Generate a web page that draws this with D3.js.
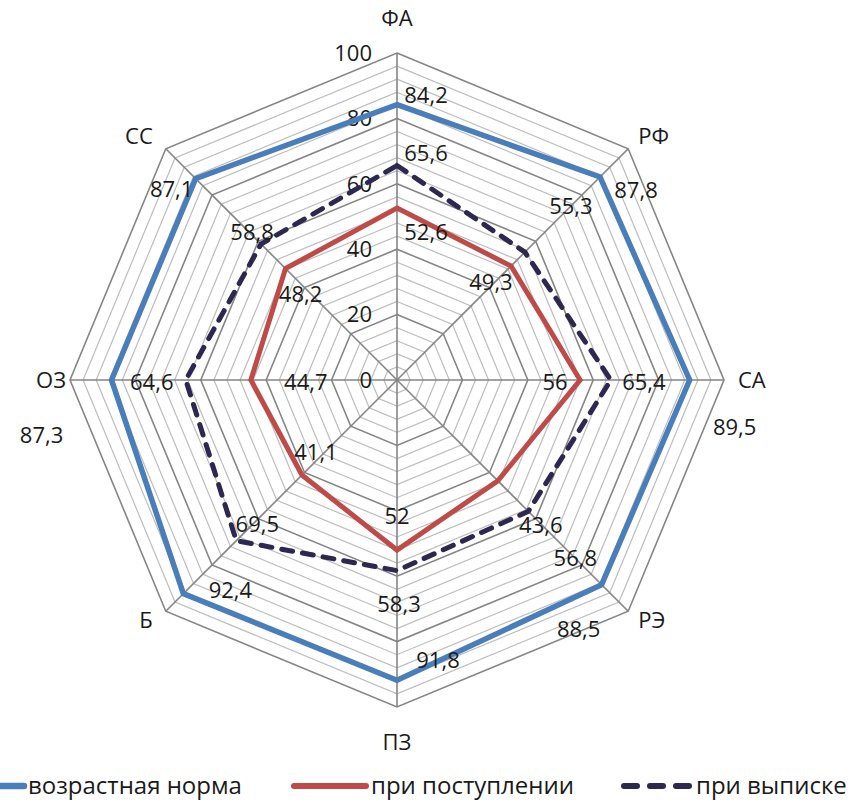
<!DOCTYPE html>
<html>
<head>
<meta charset="utf-8">
<script src="https://cdn.jsdelivr.net/npm/d3@7"></script>
<style>
  html, body { margin: 0; padding: 0; background: #fff; }
  svg { display: block; }
  text { font-family: "Open Sans", "Noto Sans", sans-serif; fill: #1a1a1a; }
</style>
</head>
<body>
<svg id="chart" width="857" height="805"></svg>
<script>
// Axes of the radar, clockwise from the top
const categories = ["ФА", "РФ", "СА", "РЭ", "ПЗ", "Б", "ОЗ", "СС"];

// Series values per axis
const normValues      = [84.2, 87.8, 89.5, 88.5, 91.8, 92.4, 87.3, 87.1];
const admissionValues = [52.6, 49.3, 56, 43.6, 52, 41.1, 44.7, 48.2];
const dischargeValues = [65.6, 55.3, 65.4, 56.8, 58.3, 69.5, 64.6, 58.8];

const seriesNames = ["возрастная норма", "при поступлении", "при выписке"];
const tickValues = [0, 20, 40, 60, 80, 100];

// Value-label nudges (px) relative to each point, per series
const normLabelShift      = [[29,-9],[36,13],[45,47],[-23,45],[41,-20],[47,-3],[-70,55],[-24,11]];
const admissionLabelShift = [[29,24],[-20,16],[-25,2],[43,44],[0,-34],[14,-23],[55,2],[15,26]];
const dischargeLabelShift = [[29,-12],[46,-46],[33,2],[47,47],[2,34],[21,-16],[-34,2],[-9,-12]];

const svg = d3.select("#chart");
const cx = 397, cy = 380, R = 327;
const n = categories.length;
const fontSize = 22;
const r = d3.scaleLinear().domain([0, 100]).range([0, R]);
const ang = i => i * 2 * Math.PI / n;
const px = (i, v) => cx + r(v) * Math.sin(ang(i));
const py = (i, v) => cy - r(v) * Math.cos(ang(i));

const g = svg.append("g");

// Ring gridlines: minor every 4, major every 20
const rings = d3.range(4, 101, 4);
const ringLine = d3.lineRadial()
  .angle((d, i) => ang(i))
  .radius(d => r(d))
  .curve(d3.curveLinearClosed);

g.append("g").attr("transform", `translate(${cx},${cy})`)
  .selectAll("path")
  .data(rings.filter(v => v % 20 !== 0))
  .join("path")
  .attr("d", v => ringLine(categories.map(() => v)))
  .attr("fill", "none")
  .attr("stroke", "#bdbdbd")
  .attr("stroke-width", 1.2);

g.append("g").attr("transform", `translate(${cx},${cy})`)
  .selectAll("path")
  .data(rings.filter(v => v % 20 === 0))
  .join("path")
  .attr("d", v => ringLine(categories.map(() => v)))
  .attr("fill", "none")
  .attr("stroke", "#858585")
  .attr("stroke-width", 1.6);

// Spokes
g.append("g").selectAll("line")
  .data(categories)
  .join("line")
  .attr("x1", cx).attr("y1", cy)
  .attr("x2", (d, i) => px(i, 100))
  .attr("y2", (d, i) => py(i, 100))
  .attr("stroke", "#858585")
  .attr("stroke-width", 1.6);

// Value ticks along the vertical axis
g.append("g").selectAll("text")
  .data(tickValues)
  .join("text")
  .attr("x", cx - 25)
  .attr("y", v => cy - r(v))
  .attr("dy", "0.35em")
  .attr("text-anchor", "end")
  .attr("font-size", fontSize)
  .text(d => d);

// Category labels around the outside
g.append("g").selectAll("text")
  .data(categories)
  .join("text")
  .attr("x", (d, i) => {
    const s = Math.sin(ang(i));
    if (Math.abs(s) < 0.01) return cx;
    if (Math.abs(Math.cos(ang(i))) < 0.01) return px(i, 100) + (s > 0 ? 14 : -4);
    return px(i, 100) + (s > 0 ? 10 : -13);
  })
  .attr("y", (d, i) => {
    const c = Math.cos(ang(i));
    if (Math.abs(c) < 0.01) return cy;
    if (Math.abs(Math.sin(ang(i))) < 0.01) return cy - c * (R + 35);
    return py(i, 100) + (c > 0 ? -12 : 9);
  })
  .attr("dy", "0.35em")
  .attr("text-anchor", (d, i) => {
    const s = Math.sin(ang(i));
    return Math.abs(s) < 0.01 ? "middle" : (s > 0 ? "start" : "end");
  })
  .attr("font-size", fontSize)
  .text(d => d);

// Series
const series = [
  { name: seriesNames[0], values: normValues, shift: normLabelShift, color: "#4a7ebb", width: 5.5, dash: null },
  { name: seriesNames[1], values: admissionValues, shift: admissionLabelShift, color: "#be4b48", width: 5, dash: null },
  { name: seriesNames[2], values: dischargeValues, shift: dischargeLabelShift, color: "#2c2850", width: 5, dash: "11 10" }
];

const seriesLine = d3.lineRadial()
  .angle((d, i) => ang(i))
  .radius(d => r(d))
  .curve(d3.curveLinearClosed);

const sg = g.append("g").attr("transform", `translate(${cx},${cy})`);
series.forEach(s => {
  sg.append("path")
    .attr("d", seriesLine(s.values))
    .attr("fill", "none")
    .attr("stroke", s.color)
    .attr("stroke-width", s.width)
    .attr("stroke-linejoin", "miter")
    .attr("stroke-linecap", s.dash ? "round" : "butt")
    .attr("stroke-dasharray", s.dash);
});

const fmt = v => String(v).replace(".", ",");
series.forEach(s => {
  g.append("g").selectAll("text")
    .data(s.values)
    .join("text")
    .attr("x", (v, i) => px(i, v) + s.shift[i][0])
    .attr("y", (v, i) => py(i, v) + s.shift[i][1])
    .attr("dy", "0.35em")
    .attr("text-anchor", "middle")
    .attr("font-size", fontSize)
    .text(fmt);
});

// Legend
const legendY = 786;
const legendItems = [
  { x0: -20, x1: 24, tx: 28 },
  { x0: 294, x1: 366, tx: 371 },
  { x0: 624, x1: 690, tx: 696 }
];
const lg = svg.append("g");
series.forEach((s, k) => {
  const it = legendItems[k];
  lg.append("line")
    .attr("x1", it.x0).attr("x2", it.x1)
    .attr("y1", legendY).attr("y2", legendY)
    .attr("stroke", s.color)
    .attr("stroke-width", s.width + 1)
    .attr("stroke-linecap", "round")
    .attr("stroke-dasharray", s.dash ? "13 13" : null);
  lg.append("text")
    .attr("x", it.tx).attr("y", legendY)
    .attr("dy", "0.35em")
    .attr("font-size", 24)
    .text(s.name);
});
</script>
</body>
</html>
